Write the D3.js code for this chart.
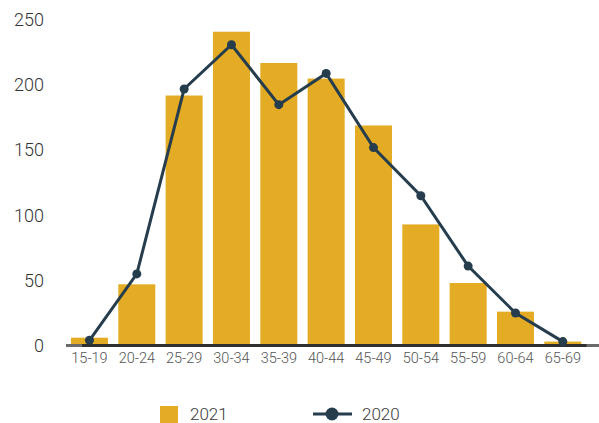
<!DOCTYPE html>
<html>
<head>
<meta charset="utf-8">
<script src="https://cdn.jsdelivr.net/npm/d3@7"></script>
<style>
  html, body { margin: 0; padding: 0; background: #fff; }
  svg { display: block; font-family: "Roboto", "Lato", "Noto Sans", sans-serif; font-weight: 300; }
</style>
</head>
<body>
<svg id="chart" width="599" height="423"></svg>
<script>
// Age groups and counts per year
const ageGroups = ["15-19","20-24","25-29","30-34","35-39","40-44","45-49","50-54","55-59","60-64","65-69"];
const values2021 = [6, 47, 192, 241, 217, 205, 169, 93, 48, 26, 3];
const values2020 = [4, 55, 197, 231, 185, 209, 152, 115, 61, 25, 3];
const yTicks = [0, 50, 100, 150, 200, 250];

const barColor = "#e3ac24";
const lineColor = "#263d4d";
const fontStack = "Roboto, Lato, 'Noto Sans', sans-serif";

const svg = d3.select("#chart");
const W = 599;

const x = d3.scaleBand()
  .domain(ageGroups)
  .range([65.8, 586.5])
  .paddingInner(0.218)
  .paddingOuter(0.109);

const y = d3.scaleLinear()
  .domain([0, 250])
  .range([345.5, 20]);

// Y axis labels (no line, no ticks)
const yAxis = d3.axisLeft(y).tickValues(yTicks).tickSize(0).tickPadding(0);
svg.append("g")
  .attr("transform", "translate(44,0)")
  .call(yAxis)
  .call(g => g.select(".domain").remove())
  .call(g => g.selectAll("text")
    .attr("fill", "#333")
    .attr("font-size", 18)
    .attr("font-weight", 300)
    .attr("font-family", fontStack));

// Bars for 2021
svg.append("g")
  .selectAll("rect")
  .data(ageGroups)
  .join("rect")
  .attr("x", d => x(d))
  .attr("width", x.bandwidth())
  .attr("y", (d, i) => y(values2021[i]))
  .attr("height", (d, i) => y(0) - y(values2021[i]))
  .attr("fill", barColor);

// Baseline: light full-width rule with a darker segment under the bands
svg.append("line")
  .attr("x1", 66).attr("x2", W)
  .attr("y1", y(0)).attr("y2", y(0))
  .attr("stroke", "#6b6b6b")
  .attr("stroke-width", 3);
svg.append("line")
  .attr("x1", 82).attr("x2", x.range()[1])
  .attr("y1", y(0)).attr("y2", y(0))
  .attr("stroke", "#2f2f2f")
  .attr("stroke-width", 3);

// X axis labels
const xAxis = d3.axisBottom(x).tickSize(0).tickPadding(0);
svg.append("g")
  .attr("transform", `translate(0,${y(0) + 7})`)
  .call(xAxis)
  .call(g => g.select(".domain").remove())
  .call(g => g.selectAll("text")
    .attr("fill", "#555")
    .attr("font-size", 14.5)
    .attr("font-weight", 300)
    .attr("font-family", fontStack));

// Line for 2020
const cx = d => x(d) + x.bandwidth() / 2;
const line = d3.line()
  .x((d, i) => cx(ageGroups[i]))
  .y(d => y(d));

svg.append("path")
  .datum(values2020)
  .attr("d", line)
  .attr("fill", "none")
  .attr("stroke", lineColor)
  .attr("stroke-width", 3);

svg.append("g")
  .selectAll("circle")
  .data(values2020)
  .join("circle")
  .attr("cx", (d, i) => cx(ageGroups[i]))
  .attr("cy", d => y(d))
  .attr("r", 4.5)
  .attr("fill", lineColor);

// Legend
const legend = svg.append("g")
  .attr("font-size", 17)
  .attr("font-weight", 300)
  .attr("font-family", fontStack);
legend.append("rect")
  .attr("x", 160).attr("y", 406).attr("width", 18).attr("height", 18)
  .attr("fill", barColor);
legend.append("text")
  .attr("x", 190).attr("y", 414.5).attr("dy", "0.35em")
  .attr("fill", "#3a3a3a")
  .text("2021");
legend.append("line")
  .attr("x1", 313).attr("x2", 352).attr("y1", 414).attr("y2", 414)
  .attr("stroke", lineColor).attr("stroke-width", 3);
legend.append("circle")
  .attr("cx", 332).attr("cy", 414).attr("r", 6.5)
  .attr("fill", lineColor);
legend.append("text")
  .attr("x", 362).attr("y", 414.5).attr("dy", "0.35em")
  .attr("fill", "#3a3a3a")
  .text("2020");
</script>
</body>
</html>
